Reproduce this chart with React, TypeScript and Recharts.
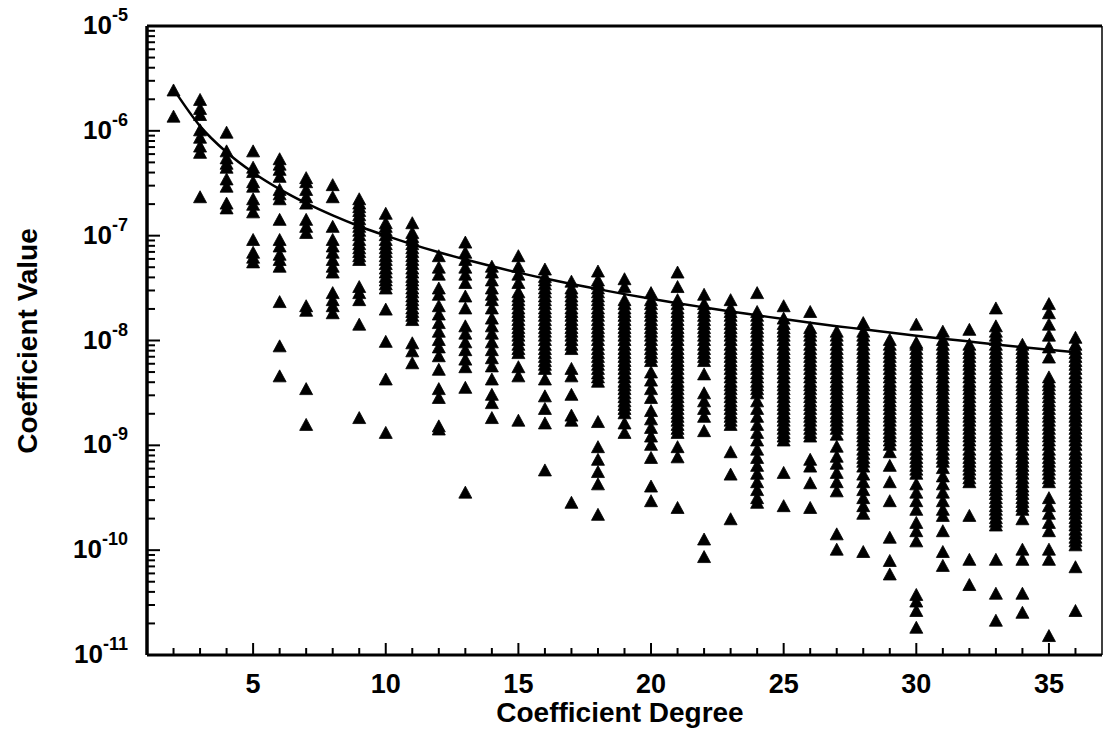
import React from 'react';
import { ComposedChart, Scatter, Line, XAxis, YAxis, ReferenceLine } from 'recharts';

const FONT = '"Liberation Sans", Arial, Helvetica, sans-serif';

// Coefficient values read per degree
const d2 = [2.4e-6, 1.35e-6];
const d3 = [1.95e-6, 1.6e-6, 1.4e-6, 1.0e-6, 8.5e-7, 7.0e-7, 6.1e-7, 2.3e-7];
const d4 = [9.5e-7, 6.3e-7, 5.4e-7, 4.8e-7, 4.4e-7, 3.4e-7, 2.9e-7, 2.0e-7, 1.8e-7];
const d5 = [6.3e-7, 4.4e-7, 4.0e-7, 3.2e-7, 2.9e-7, 2.2e-7, 1.95e-7, 1.65e-7, 9.0e-8, 6.8e-8, 6.1e-8, 5.5e-8];
const d6 = [5.3e-7, 4.7e-7, 4.2e-7, 3.6e-7, 2.7e-7, 2.45e-7, 2.2e-7, 1.4e-7, 9.0e-8, 7.8e-8, 6.5e-8, 5.8e-8, 5.0e-8, 2.3e-8, 8.7e-9, 4.5e-9];
const d7 = [3.5e-7, 3.2e-7, 2.7e-7, 2.3e-7, 2.0e-7, 1.4e-7, 1.2e-7, 1.05e-7, 2.1e-8, 1.9e-8, 3.4e-9, 1.55e-9];
const d8 = [3.0e-7, 2.3e-7, 1.2e-7, 9.0e-8, 7.8e-8, 6.8e-8, 5.8e-8, 5.0e-8, 4.4e-8, 2.8e-8, 2.4e-8, 2.1e-8, 1.8e-8];
const d9 = [2.2e-7, 2.0e-7, 1.85e-7, 1.7e-7, 1.55e-7, 1.42e-7, 1.3e-7, 1.2e-7, 1.1e-7, 1.0e-7, 9.0e-8, 8.2e-8, 7.5e-8, 6.9e-8, 6.3e-8, 5.8e-8, 3.2e-8, 2.8e-8, 2.4e-8, 1.4e-8, 1.8e-9];
const d10 = [1.6e-7, 1.3e-7, 1.2e-7, 1.1e-7, 1.0e-7, 9.0e-8, 8.2e-8, 7.5e-8, 6.9e-8, 6.3e-8, 5.8e-8, 5.3e-8, 4.8e-8, 4.4e-8, 4.0e-8, 3.7e-8, 3.4e-8, 3.1e-8, 1.95e-8, 9.6e-9, 4.2e-9, 1.3e-9];
const d11 = [1.3e-7, 1.05e-7, 9.6e-8, 9.0e-8, 8.2e-8, 7.5e-8, 6.9e-8, 6.3e-8, 5.8e-8, 5.3e-8, 4.8e-8, 4.4e-8, 4.0e-8, 3.7e-8, 3.4e-8, 3.1e-8, 2.85e-8, 2.6e-8, 2.4e-8, 2.2e-8, 2.0e-8, 1.85e-8, 1.7e-8, 1.55e-8, 9.3e-9, 7.8e-9, 6.0e-9];
const d12 = [6.3e-8, 4.9e-8, 4.2e-8, 3.1e-8, 2.7e-8, 2.1e-8, 1.75e-8, 1.45e-8, 1.2e-8, 1.0e-8, 8.5e-9, 7.0e-9, 5.2e-9, 3.4e-9, 2.8e-9, 1.5e-9, 1.4e-9];
const d13 = [8.5e-8, 6.8e-8, 5.8e-8, 4.9e-8, 4.2e-8, 3.5e-8, 2.6e-8, 2.0e-8, 1.35e-8, 1.15e-8, 9.5e-9, 8.0e-9, 6.5e-9, 5.5e-9, 3.5e-9, 3.5e-10];
const d14 = [5.0e-8, 4.4e-8, 3.7e-8, 3.1e-8, 2.7e-8, 2.4e-8, 2.0e-8, 1.6e-8, 1.35e-8, 1.15e-8, 9.5e-9, 8.0e-9, 6.7e-9, 5.6e-9, 4.2e-9, 3.0e-9, 2.5e-9, 1.8e-9];
const d15 = [6.3e-8, 5.0e-8, 4.2e-8, 3.5e-8, 2.85e-8, 2.6e-8, 2.4e-8, 2.2e-8, 2.0e-8, 1.85e-8, 1.7e-8, 1.55e-8, 1.42e-8, 1.3e-8, 1.2e-8, 1.1e-8, 1.0e-8, 9.0e-9, 8.2e-9, 7.5e-9, 5.5e-9, 4.5e-9, 1.7e-9];
const d16 = [4.7e-8, 4.0e-8, 3.7e-8, 3.4e-8, 3.1e-8, 2.85e-8, 2.6e-8, 2.4e-8, 2.2e-8, 2.0e-8, 1.85e-8, 1.7e-8, 1.55e-8, 1.42e-8, 1.3e-8, 1.2e-8, 1.1e-8, 1.0e-8, 9.0e-9, 8.2e-9, 7.5e-9, 6.9e-9, 6.3e-9, 5.8e-9, 5.3e-9, 4.2e-9, 2.9e-9, 2.2e-9, 1.6e-9, 5.7e-10];
const d17 = [3.6e-8, 3.1e-8, 2.85e-8, 2.6e-8, 2.4e-8, 2.2e-8, 2.0e-8, 1.85e-8, 1.7e-8, 1.55e-8, 1.42e-8, 1.3e-8, 1.2e-8, 1.1e-8, 1.0e-8, 9.0e-9, 8.2e-9, 5.3e-9, 4.5e-9, 3.0e-9, 1.9e-9, 1.7e-9, 2.8e-10];
const d18 = [4.5e-8, 3.7e-8, 3.4e-8, 3.1e-8, 2.85e-8, 2.6e-8, 2.4e-8, 2.2e-8, 2.0e-8, 1.85e-8, 1.7e-8, 1.55e-8, 1.42e-8, 1.3e-8, 1.2e-8, 1.1e-8, 1.0e-8, 9.0e-9, 8.2e-9, 7.5e-9, 6.9e-9, 6.3e-9, 5.8e-9, 5.3e-9, 4.8e-9, 4.4e-9, 4.0e-9, 1.65e-9, 9.5e-10, 7.2e-10, 5.5e-10, 4.2e-10, 2.15e-10];
const d19 = [3.8e-8, 3.2e-8, 2.4e-8, 2.2e-8, 2.0e-8, 1.85e-8, 1.7e-8, 1.55e-8, 1.42e-8, 1.3e-8, 1.2e-8, 1.1e-8, 1.0e-8, 9.0e-9, 8.2e-9, 7.5e-9, 6.9e-9, 6.3e-9, 5.8e-9, 5.3e-9, 4.8e-9, 4.4e-9, 4.0e-9, 3.7e-9, 3.4e-9, 3.1e-9, 2.85e-9, 2.6e-9, 2.4e-9, 2.2e-9, 2.0e-9, 1.6e-9, 1.3e-9];
const d20 = [2.8e-8, 2.4e-8, 2.2e-8, 2.0e-8, 1.85e-8, 1.7e-8, 1.55e-8, 1.42e-8, 1.3e-8, 1.2e-8, 1.1e-8, 1.0e-8, 9.0e-9, 8.2e-9, 7.5e-9, 6.9e-9, 6.3e-9, 4.9e-9, 4.1e-9, 3.4e-9, 2.8e-9, 2.1e-9, 1.75e-9, 1.45e-9, 1.2e-9, 1.0e-9, 7.5e-10, 4.0e-10, 2.9e-10];
const d21 = [4.4e-8, 3.2e-8, 2.4e-8, 2.2e-8, 2.0e-8, 1.85e-8, 1.7e-8, 1.55e-8, 1.42e-8, 1.3e-8, 1.2e-8, 1.1e-8, 1.0e-8, 9.0e-9, 8.2e-9, 7.5e-9, 6.9e-9, 6.3e-9, 5.8e-9, 5.3e-9, 4.8e-9, 4.4e-9, 4.0e-9, 3.7e-9, 3.4e-9, 3.1e-9, 2.85e-9, 2.6e-9, 2.4e-9, 2.2e-9, 2.0e-9, 1.85e-9, 1.7e-9, 1.55e-9, 1.42e-9, 1.3e-9, 9.5e-10, 7.6e-10, 2.5e-10];
const d22 = [2.7e-8, 2.2e-8, 2.0e-8, 1.85e-8, 1.7e-8, 1.55e-8, 1.42e-8, 1.3e-8, 1.2e-8, 1.1e-8, 1.0e-8, 9.0e-9, 8.2e-9, 7.5e-9, 6.9e-9, 6.3e-9, 4.7e-9, 3.1e-9, 2.6e-9, 2.2e-9, 1.85e-9, 1.35e-9, 1.25e-10, 8.5e-11];
const d23 = [2.4e-8, 2.0e-8, 1.85e-8, 1.7e-8, 1.55e-8, 1.42e-8, 1.3e-8, 1.2e-8, 1.1e-8, 1.0e-8, 9.0e-9, 8.2e-9, 7.5e-9, 6.9e-9, 6.3e-9, 5.8e-9, 5.3e-9, 4.8e-9, 4.4e-9, 4.0e-9, 3.7e-9, 3.4e-9, 3.1e-9, 2.85e-9, 2.6e-9, 2.4e-9, 2.2e-9, 2.0e-9, 1.85e-9, 1.7e-9, 1.55e-9, 8.5e-10, 5.2e-10, 1.95e-10];
const d24 = [2.8e-8, 1.85e-8, 1.7e-8, 1.55e-8, 1.42e-8, 1.3e-8, 1.2e-8, 1.1e-8, 1.0e-8, 9.0e-9, 8.2e-9, 7.5e-9, 6.9e-9, 6.3e-9, 5.8e-9, 5.3e-9, 4.8e-9, 4.4e-9, 4.0e-9, 3.7e-9, 3.4e-9, 3.1e-9, 2.6e-9, 2.2e-9, 1.85e-9, 1.55e-9, 1.3e-9, 1.1e-9, 9.0e-10, 7.5e-10, 6.3e-10, 5.3e-10, 4.4e-10, 3.7e-10, 3.1e-10, 2.8e-10];
const d25 = [2.1e-8, 1.6e-8, 1.42e-8, 1.3e-8, 1.2e-8, 1.1e-8, 1.0e-8, 9.0e-9, 8.2e-9, 7.5e-9, 6.9e-9, 6.3e-9, 5.8e-9, 5.3e-9, 4.8e-9, 4.4e-9, 4.0e-9, 3.7e-9, 3.4e-9, 3.1e-9, 2.85e-9, 2.6e-9, 2.4e-9, 2.2e-9, 2.0e-9, 1.85e-9, 1.7e-9, 1.55e-9, 1.42e-9, 1.3e-9, 1.2e-9, 1.1e-9, 5.4e-10, 2.6e-10];
const d26 = [1.85e-8, 1.3e-8, 1.2e-8, 1.1e-8, 1.0e-8, 9.0e-9, 8.2e-9, 7.5e-9, 6.9e-9, 6.3e-9, 5.8e-9, 5.3e-9, 4.8e-9, 4.4e-9, 4.0e-9, 3.7e-9, 3.4e-9, 3.1e-9, 2.85e-9, 2.6e-9, 2.4e-9, 2.2e-9, 2.0e-9, 1.85e-9, 1.7e-9, 1.55e-9, 1.42e-9, 1.3e-9, 1.2e-9, 7.2e-10, 6.2e-10, 4.3e-10, 2.5e-10];
const d27 = [1.2e-8, 1.1e-8, 1.0e-8, 9.0e-9, 8.2e-9, 7.5e-9, 6.9e-9, 6.3e-9, 5.8e-9, 5.3e-9, 4.8e-9, 4.4e-9, 4.0e-9, 3.7e-9, 3.4e-9, 3.1e-9, 2.85e-9, 2.6e-9, 2.4e-9, 2.2e-9, 2.0e-9, 1.85e-9, 1.7e-9, 1.55e-9, 1.42e-9, 1.25e-9, 9.6e-10, 7.7e-10, 6.6e-10, 5.4e-10, 4.4e-10, 3.6e-10, 1.4e-10, 1.0e-10];
const d28 = [1.45e-8, 1.2e-8, 1.1e-8, 1.0e-8, 9.0e-9, 8.2e-9, 7.5e-9, 6.9e-9, 6.3e-9, 5.8e-9, 5.3e-9, 4.8e-9, 4.4e-9, 4.0e-9, 3.7e-9, 3.4e-9, 3.1e-9, 2.85e-9, 2.6e-9, 2.4e-9, 2.2e-9, 2.0e-9, 1.85e-9, 1.7e-9, 1.55e-9, 1.42e-9, 1.3e-9, 1.2e-9, 1.1e-9, 1.0e-9, 9.0e-10, 8.2e-10, 7.5e-10, 6.9e-10, 6.2e-10, 5.2e-10, 4.4e-10, 3.7e-10, 3.1e-10, 2.6e-10, 2.2e-10, 9.5e-11];
const d29 = [1.0e-8, 9.0e-9, 8.2e-9, 7.5e-9, 6.9e-9, 6.3e-9, 5.8e-9, 5.3e-9, 4.8e-9, 4.4e-9, 4.0e-9, 3.7e-9, 3.4e-9, 3.1e-9, 2.85e-9, 2.6e-9, 2.4e-9, 2.2e-9, 2.0e-9, 1.85e-9, 1.7e-9, 1.55e-9, 1.42e-9, 1.3e-9, 1.2e-9, 1.1e-9, 1.0e-9, 8.5e-10, 6.3e-10, 4.4e-10, 2.9e-10, 1.3e-10, 7.8e-11, 5.8e-11];
const d30 = [1.4e-8, 9.4e-9, 9.0e-9, 8.2e-9, 7.5e-9, 6.9e-9, 6.3e-9, 5.8e-9, 5.3e-9, 4.8e-9, 4.4e-9, 4.0e-9, 3.7e-9, 3.4e-9, 3.1e-9, 2.85e-9, 2.6e-9, 2.4e-9, 2.2e-9, 2.0e-9, 1.85e-9, 1.7e-9, 1.55e-9, 1.42e-9, 1.3e-9, 1.2e-9, 1.1e-9, 1.0e-9, 9.0e-10, 8.2e-10, 7.5e-10, 6.9e-10, 6.3e-10, 5.8e-10, 5.3e-10, 4.2e-10, 3.5e-10, 2.9e-10, 2.4e-10, 1.8e-10, 1.5e-10, 1.2e-10, 3.7e-11, 3.2e-11, 2.6e-11, 1.8e-11];
const d31 = [1.2e-8, 1.0e-8, 9.0e-9, 8.2e-9, 7.5e-9, 6.9e-9, 6.3e-9, 5.8e-9, 5.3e-9, 4.8e-9, 4.4e-9, 4.0e-9, 3.7e-9, 3.4e-9, 3.1e-9, 2.85e-9, 2.6e-9, 2.4e-9, 2.2e-9, 2.0e-9, 1.85e-9, 1.7e-9, 1.55e-9, 1.42e-9, 1.3e-9, 1.2e-9, 1.1e-9, 1.0e-9, 9.0e-10, 8.2e-10, 7.5e-10, 6.9e-10, 6.0e-10, 5.0e-10, 4.2e-10, 3.5e-10, 2.9e-10, 2.4e-10, 2.1e-10, 1.5e-10, 9.5e-11, 7.0e-11];
const d32 = [1.25e-8, 9.0e-9, 8.2e-9, 7.5e-9, 6.9e-9, 6.3e-9, 5.8e-9, 5.3e-9, 4.8e-9, 4.4e-9, 4.0e-9, 3.7e-9, 3.4e-9, 3.1e-9, 2.85e-9, 2.6e-9, 2.4e-9, 2.2e-9, 2.0e-9, 1.85e-9, 1.7e-9, 1.55e-9, 1.42e-9, 1.3e-9, 1.2e-9, 1.1e-9, 1.0e-9, 9.0e-10, 8.2e-10, 7.5e-10, 6.9e-10, 6.3e-10, 5.8e-10, 5.3e-10, 4.8e-10, 4.4e-10, 2.1e-10, 8.0e-11, 4.6e-11];
const d33 = [2.0e-8, 1.35e-8, 1.2e-8, 1.1e-8, 1.0e-8, 9.0e-9, 8.2e-9, 7.5e-9, 6.9e-9, 6.3e-9, 5.8e-9, 5.3e-9, 4.8e-9, 4.4e-9, 4.0e-9, 3.7e-9, 3.4e-9, 3.1e-9, 2.85e-9, 2.6e-9, 2.4e-9, 2.2e-9, 2.0e-9, 1.85e-9, 1.7e-9, 1.55e-9, 1.42e-9, 1.3e-9, 1.2e-9, 1.1e-9, 1.0e-9, 9.0e-10, 8.2e-10, 7.5e-10, 6.9e-10, 6.3e-10, 5.8e-10, 5.3e-10, 4.8e-10, 4.4e-10, 4.0e-10, 3.7e-10, 3.4e-10, 3.1e-10, 2.85e-10, 2.6e-10, 2.4e-10, 2.2e-10, 2.0e-10, 1.85e-10, 1.7e-10, 8.0e-11, 3.8e-11, 2.1e-11];
const d34 = [9.0e-9, 8.2e-9, 7.5e-9, 6.9e-9, 6.3e-9, 5.8e-9, 5.3e-9, 4.8e-9, 4.4e-9, 4.0e-9, 3.7e-9, 3.4e-9, 3.1e-9, 2.85e-9, 2.6e-9, 2.4e-9, 2.2e-9, 2.0e-9, 1.85e-9, 1.7e-9, 1.55e-9, 1.42e-9, 1.3e-9, 1.2e-9, 1.1e-9, 1.0e-9, 9.0e-10, 8.2e-10, 7.5e-10, 6.9e-10, 6.3e-10, 5.8e-10, 5.3e-10, 4.8e-10, 4.4e-10, 4.0e-10, 3.7e-10, 3.4e-10, 3.1e-10, 2.85e-10, 2.6e-10, 2.4e-10, 1.95e-10, 1.0e-10, 8.0e-11, 3.8e-11, 2.5e-11];
const d35 = [2.2e-8, 1.8e-8, 1.4e-8, 1.1e-8, 8.5e-9, 6.8e-9, 4.4e-9, 4.0e-9, 3.7e-9, 3.4e-9, 3.1e-9, 2.85e-9, 2.6e-9, 2.4e-9, 2.2e-9, 2.0e-9, 1.85e-9, 1.7e-9, 1.55e-9, 1.42e-9, 1.3e-9, 1.2e-9, 1.1e-9, 1.0e-9, 9.0e-10, 8.2e-10, 7.5e-10, 6.9e-10, 6.3e-10, 5.8e-10, 5.3e-10, 4.8e-10, 4.4e-10, 3.1e-10, 2.6e-10, 2.2e-10, 1.8e-10, 1.5e-10, 1.0e-10, 8.0e-11, 1.5e-11];
const d36 = [1.05e-8, 9.0e-9, 8.2e-9, 7.5e-9, 6.9e-9, 6.3e-9, 5.8e-9, 5.3e-9, 4.8e-9, 4.4e-9, 4.0e-9, 3.7e-9, 3.4e-9, 3.1e-9, 2.85e-9, 2.6e-9, 2.4e-9, 2.2e-9, 2.0e-9, 1.85e-9, 1.7e-9, 1.55e-9, 1.42e-9, 1.3e-9, 1.2e-9, 1.1e-9, 1.0e-9, 9.0e-10, 8.2e-10, 7.5e-10, 6.9e-10, 6.3e-10, 5.8e-10, 5.3e-10, 4.8e-10, 4.4e-10, 4.0e-10, 3.7e-10, 3.4e-10, 3.1e-10, 2.85e-10, 2.6e-10, 2.4e-10, 2.2e-10, 2.0e-10, 1.85e-10, 1.7e-10, 1.55e-10, 1.42e-10, 1.3e-10, 1.2e-10, 1.1e-10, 6.8e-11, 2.6e-11];

const columns: Array<[number, number[]]> = [
  [2, d2], [3, d3], [4, d4], [5, d5], [6, d6], [7, d7], [8, d8], [9, d9], [10, d10],
  [11, d11], [12, d12], [13, d13], [14, d14], [15, d15], [16, d16], [17, d17], [18, d18],
  [19, d19], [20, d20], [21, d21], [22, d22], [23, d23], [24, d24], [25, d25], [26, d26],
  [27, d27], [28, d28], [29, d29], [30, d30], [31, d31], [32, d32], [33, d33], [34, d34],
  [35, d35], [36, d36],
];

// Rule-of-thumb curve, read at each degree
const curveDegrees = [2, 3, 4, 5, 6, 7, 8, 9, 10, 11, 12, 13, 14, 15, 16, 17, 18, 19, 20, 21, 22, 23, 24, 25, 26, 27, 28, 29, 30, 31, 32, 33, 34, 35, 36];
const curveValues = [2.5e-6, 1.11e-6, 6.25e-7, 4.0e-7, 2.78e-7, 2.04e-7, 1.56e-7, 1.23e-7, 1.0e-7, 8.26e-8, 6.94e-8, 5.92e-8, 5.1e-8, 4.44e-8, 3.91e-8, 3.46e-8, 3.09e-8, 2.77e-8, 2.5e-8, 2.27e-8, 2.07e-8, 1.89e-8, 1.74e-8, 1.6e-8, 1.48e-8, 1.37e-8, 1.28e-8, 1.19e-8, 1.11e-8, 1.04e-8, 9.77e-9, 9.18e-9, 8.65e-9, 8.16e-9, 7.72e-9];

// Axis ticks
const xTicks = [2, 3, 4, 5, 6, 7, 8, 9, 10, 11, 12, 13, 14, 15, 16, 17, 18, 19, 20, 21, 22, 23, 24, 25, 26, 27, 28, 29, 30, 31, 32, 33, 34, 35, 36];
const xMajorTicks = [5, 10, 15, 20, 25, 30, 35];
const yDecades = [1e-11, 1e-10, 1e-9, 1e-8, 1e-7, 1e-6, 1e-5];
const yDecadeExponents = ['-11', '-10', '-9', '-8', '-7', '-6', '-5'];
const yMinorMantissas = [2, 3, 4, 5, 6, 7, 8, 9];

const yTicks = [
  ...yDecades,
  ...yDecades.slice(0, -1).flatMap((d) => yMinorMantissas.map((m) => m * d)),
].sort((a, b) => a - b);

const scatterData = columns.flatMap(([deg, vals]) => vals.map((v) => ({ x: deg, y: v })));
const curveData = curveDegrees.map((d, i) => ({ x: d, y: curveValues[i] }));

const Triangle = (props: any) => {
  const { cx, cy } = props;
  if (cx == null || cy == null) return null;
  return (
    <path
      d={`M${cx},${cy - 7}L${cx + 6.5},${cy + 5}L${cx - 6.5},${cy + 5}Z`}
      fill="#000"
      stroke="#000"
      strokeWidth={0.8}
      strokeLinejoin="round"
    />
  );
};

const XTick = (props: any) => {
  const { x, y, payload } = props;
  const v = payload.value;
  const major = xMajorTicks.includes(v);
  const len = major ? 12 : 7;
  return (
    <g>
      <line x1={x} x2={x} y1={y} y2={y - len} stroke="#000" strokeWidth={2} />
      {major && (
        <text x={x} y={y + 38} textAnchor="middle" fontSize={27} fontWeight="bold" fontFamily={FONT} fill="#000">
          {v}
        </text>
      )}
    </g>
  );
};

const YTick = (props: any) => {
  const { x, y, payload } = props;
  const v = payload.value;
  const idx = yDecades.findIndex((d) => Math.abs(v / d - 1) < 1e-6);
  const major = idx >= 0;
  const len = major ? 13 : 8;
  return (
    <g>
      <line x1={x} x2={x + len} y1={y} y2={y} stroke="#000" strokeWidth={2} />
      {major && (
        <text x={x - 19} y={y + 8} textAnchor="end" fontFamily={FONT} fontWeight="bold" fill="#000">
          <tspan fontSize={26}>10</tspan>
          <tspan fontSize={18} dy={-13}>{yDecadeExponents[idx]}</tspan>
        </text>
      )}
    </g>
  );
};

const XTitle = () => (
  <text x={620} y={722} textAnchor="middle" fontSize={28} fontWeight="bold" fontFamily={FONT} fill="#000">
    Coefficient Degree
  </text>
);

const YTitle = () => (
  <text transform="translate(37,341) rotate(-90)" textAnchor="middle" fontSize={28} fontWeight="bold" fontFamily={FONT} fill="#000">
    Coefficient Value
  </text>
);

export default function App() {
  return (
    <div style={{ position: 'absolute', left: 0, top: 0, width: 1104, height: 750, background: '#fff' }}>
      <ComposedChart width={1104} height={750} margin={{ top: 26, right: 2, bottom: 65, left: 87 }}>
        <XAxis
          dataKey="x"
          type="number"
          domain={[1, 37]}
          ticks={xTicks}
          interval={0}
          allowDataOverflow
          height={30}
          tickSize={0}
          tickMargin={0}
          tickLine={false}
          axisLine={{ stroke: '#000', strokeWidth: 3 }}
          tick={<XTick />}
          label={<XTitle />}
        />
        <YAxis
          dataKey="y"
          type="number"
          scale="log"
          domain={[1e-11, 1e-5]}
          ticks={yTicks}
          interval={0}
          allowDataOverflow
          width={60}
          tickSize={0}
          tickMargin={0}
          tickLine={false}
          axisLine={{ stroke: '#000', strokeWidth: 3.5 }}
          tick={<YTick />}
          label={<YTitle />}
        />
        <ReferenceLine y={1e-5} stroke="#000" strokeWidth={3} />
        <ReferenceLine x={37} stroke="#000" strokeWidth={1.5} />
        <Line
          data={curveData}
          dataKey="y"
          type="monotone"
          stroke="#000"
          strokeWidth={2.5}
          dot={false}
          activeDot={false}
          isAnimationActive={false}
        />
        <Scatter data={scatterData} dataKey="y" shape={Triangle} isAnimationActive={false} />
      </ComposedChart>
    </div>
  );
}
